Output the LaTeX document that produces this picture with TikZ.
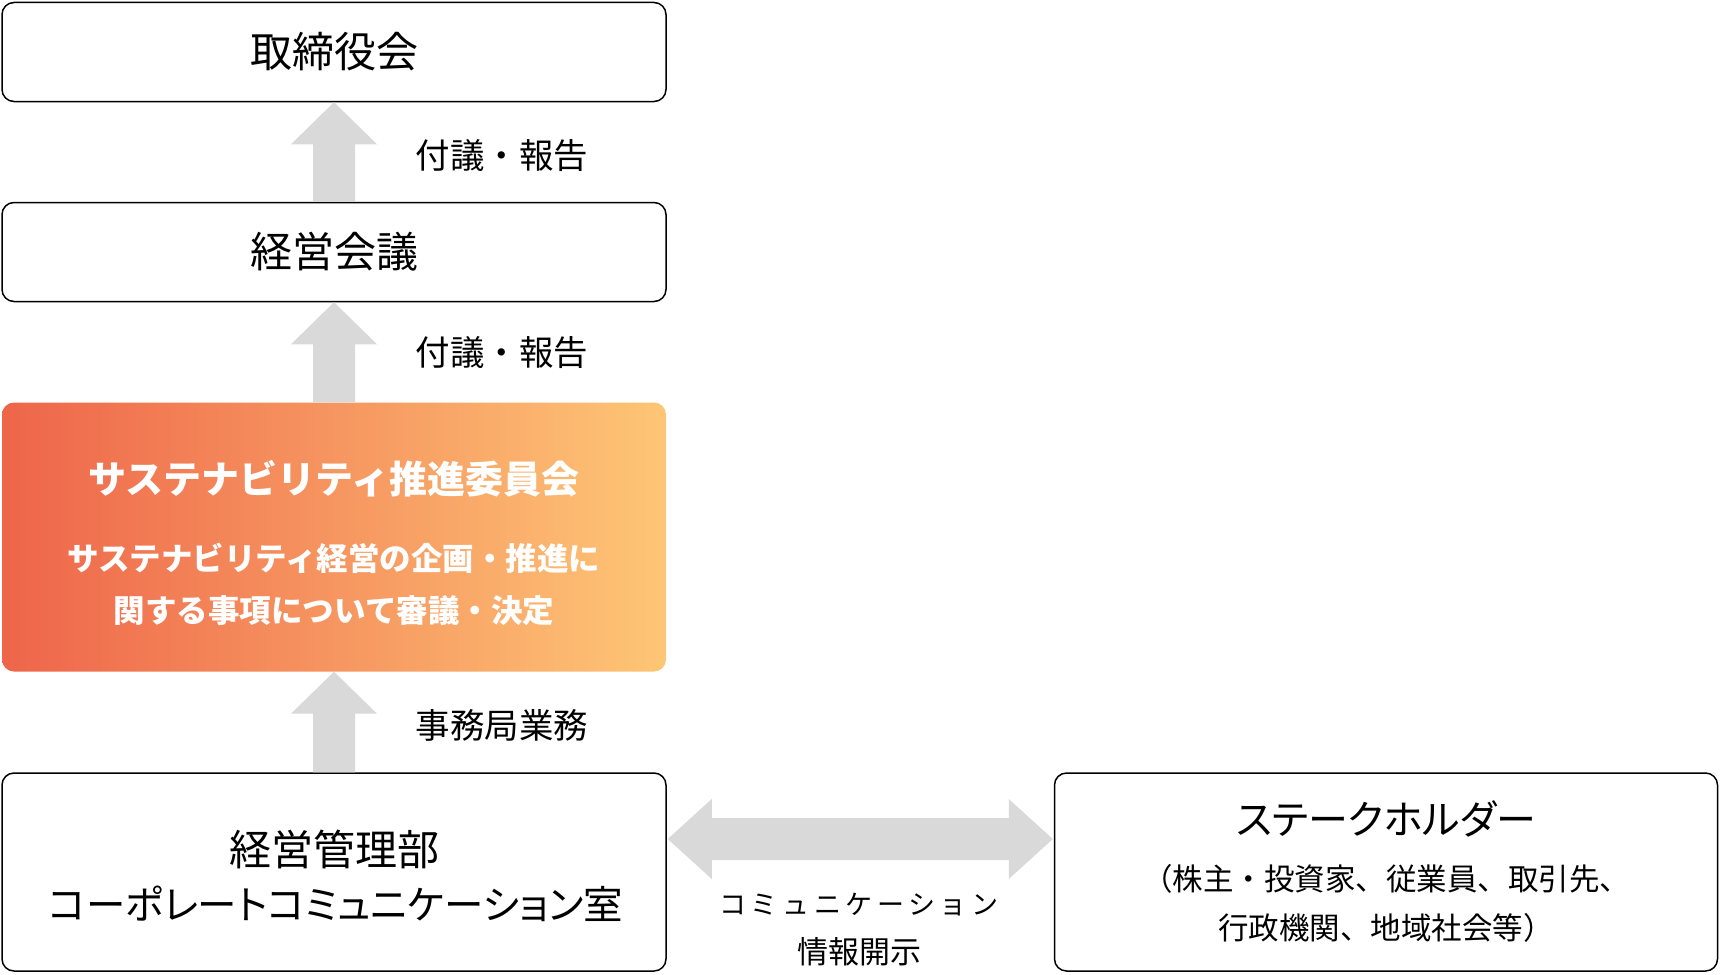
\documentclass[tikz,border=0pt]{standalone}
\usepackage{fontspec}
\setmainfont{Noto Sans CJK JP}
\newfontfamily\paltfont{Noto Sans CJK JP}[RawFeature=+palt]
\usetikzlibrary{calc}

\definecolor{arrowgray}{RGB}{217,217,217}
\definecolor{orangeL}{RGB}{238,101,74}
\definecolor{orangeR}{RGB}{254,198,118}

\tikzset{
  box/.style={draw, line width=1.5pt, rounded corners=12pt, fill=white,
    minimum width=664pt, inner sep=0pt, align=center},
  fatarrow/.style={fill=arrowgray},
  lbl/.style={font=\fontsize{34.5}{40}\selectfont, inner sep=0pt},
  big/.style={font=\fontsize{42}{50}\selectfont},
}

\begin{document}
\begin{tikzpicture}[x=1pt, y=-1pt]
        \useasboundingbox (0,0) rectangle (1720,974);

        % Boxes
        \node[box, big, minimum height=99pt] (board) at (334,52) {取締役会};
        \node[box, big, minimum height=99pt] (mgmt) at (334,252) {経営会議};
        \node[rounded corners=12pt, left color=orangeL, right color=orangeR,
          minimum width=664pt, minimum height=269pt] (committee) at (334,537) {};
        \node[box, minimum height=198pt] (corp) at (334,872) {};
        \node[box, minimum height=198pt, minimum width=663pt] (stake) at (1386,872) {};

        % Texts in the boxes
        \node[white, font=\fontsize{38}{44}\selectfont\bfseries] (cmtitle) at (334,479) {サステナビリティ推進委員会};
        \node[white, font=\fontsize{31.5}{38}\selectfont\bfseries] (cmline1) at (334,558) {サステナビリティ経営の企画・推進に};
        \node[white, font=\fontsize{31.5}{38}\selectfont\bfseries] (cmline2) at (334,611) {関する事項について審議・決定};
        \node[big] (corpline1) at (334,849) {経営管理部};
        \node[font=\paltfont\fontsize{39.5}{48}\selectfont] (corpline2) at (336,904) {コーポレートコミュニケーション室};
        \node[font=\paltfont\fontsize{40}{48}\selectfont] (stline1) at (1386,819) {ステークホルダー};
        \node[font=\fontsize{30.5}{36}\selectfont] (stline2) at (1386,879) {（株主・投資家、従業員、取引先、};
        \node[font=\fontsize{30.5}{36}\selectfont] (stline3) at (1386,928) {行政機関、地域社会等）};

        % Up arrows
        \fill[fatarrow] ($(mgmt.north)+(-21,0)$) -- ($(board.south)+(-21,42)$) -- ($(board.south)+(-43,42)$)
          -- (board.south) -- ($(board.south)+(43,42)$) -- ($(board.south)+(21,42)$) -- ($(mgmt.north)+(21,0)$) -- cycle;
        \fill[fatarrow] ($(committee.north)+(-21,0)$) -- ($(mgmt.south)+(-21,42)$) -- ($(mgmt.south)+(-43,42)$)
          -- (mgmt.south) -- ($(mgmt.south)+(43,42)$) -- ($(mgmt.south)+(21,42)$) -- ($(committee.north)+(21,0)$) -- cycle;
        \fill[fatarrow] ($(corp.north)+(-21,0)$) -- ($(committee.south)+(-21,42)$) -- ($(committee.south)+(-43,42)$)
          -- (committee.south) -- ($(committee.south)+(43,42)$) -- ($(committee.south)+(21,42)$) -- ($(corp.north)+(21,0)$) -- cycle;

        % Double arrow
        \coordinate (la) at ($(corp.east)+(1,-33)$);
        \coordinate (ra) at ($(stake.west)+(-1,-33)$);
        \fill[fatarrow] (la) -- ($(la)+(44,-40)$) -- ($(la)+(44,-21)$) -- ($(ra)+(-44,-21)$) -- ($(ra)+(-44,-40)$)
          -- (ra) -- ($(ra)+(-44,40)$) -- ($(ra)+(-44,21)$) -- ($(la)+(44,21)$) -- ($(la)+(44,40)$) -- cycle;

        % Labels
        \node[lbl] (rep1) at (502,156) {付議・報告};
        \node[lbl] (rep2) at (502,353) {付議・報告};
        \node[lbl] (office) at (502,725) {事務局業務};
        \node[font=\fontsize{27}{32}\selectfont] (comm) at (859,905) {コ\,ミ\,ュ\,ニ\,ケ\,ー\,シ\,ョ\,ン};
        \node[font=\fontsize{31}{36}\selectfont] (disc) at (859,952) {情報開示};

    \end{tikzpicture}
\end{document}
